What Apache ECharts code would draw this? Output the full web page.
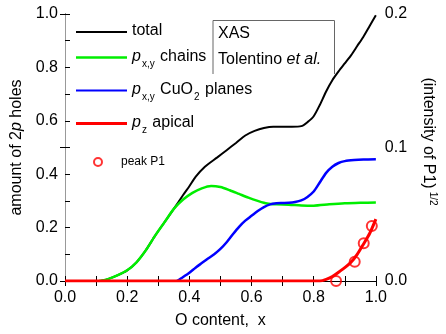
<!DOCTYPE html>
<html>
<head>
<meta charset="utf-8">
<script src="https://cdn.jsdelivr.net/npm/echarts@6/dist/echarts.min.js"></script>
<style>
  html, body { margin: 0; padding: 0; background: #fff; }
  #chart { width: 446px; height: 334px; }
</style>
</head>
<body>
<div id="chart"></div>
<script>
// values (x = O content, y = amount of 2p holes)
const totalX = [0, 0.11, 0.14, 0.17, 0.2, 0.23, 0.26, 0.29, 0.32, 0.35, 0.38, 0.4, 0.42, 0.45, 0.49, 0.52, 0.55, 0.58, 0.61, 0.64, 0.67, 0.7, 0.73, 0.76, 0.78, 0.8, 0.82, 0.84, 0.86, 0.88, 0.9, 0.92, 0.94, 0.96, 0.98, 1.0]
const totalY = [0, 0, 0.008, 0.022, 0.04, 0.07, 0.115, 0.17, 0.22, 0.27, 0.322, 0.355, 0.39, 0.428, 0.463, 0.49, 0.517, 0.545, 0.562, 0.573, 0.578, 0.578, 0.578, 0.58, 0.595, 0.617, 0.66, 0.71, 0.752, 0.785, 0.815, 0.845, 0.88, 0.915, 0.955, 0.995]

const chainsX = [0.11, 0.14, 0.17, 0.2, 0.23, 0.26, 0.29, 0.32, 0.35, 0.38, 0.41, 0.44, 0.47, 0.5, 0.53, 0.56, 0.59, 0.62, 0.65, 0.68, 0.72, 0.76, 0.8, 0.85, 0.9, 0.95, 1.0]
const chainsY = [0, 0.008, 0.022, 0.04, 0.07, 0.115, 0.17, 0.22, 0.27, 0.305, 0.33, 0.347, 0.356, 0.352, 0.34, 0.326, 0.312, 0.3, 0.29, 0.287, 0.286, 0.283, 0.282, 0.287, 0.291, 0.293, 0.294]

const planesX = [0.36, 0.38, 0.4, 0.42, 0.44, 0.46, 0.48, 0.5, 0.52, 0.54, 0.56, 0.58, 0.6, 0.62, 0.64, 0.66, 0.68, 0.7, 0.72, 0.74, 0.76, 0.78, 0.8, 0.82, 0.84, 0.86, 0.88, 0.9, 0.93, 0.96, 1.0]
const planesY = [0, 0.015, 0.031, 0.05, 0.067, 0.084, 0.1, 0.12, 0.145, 0.175, 0.203, 0.226, 0.244, 0.262, 0.277, 0.287, 0.291, 0.292, 0.293, 0.296, 0.302, 0.315, 0.335, 0.37, 0.405, 0.428, 0.442, 0.449, 0.453, 0.455, 0.456]

const apicalX = [0, 0.2, 0.4, 0.6, 0.7, 0.76, 0.8, 0.82, 0.84, 0.86, 0.88, 0.9, 0.92, 0.94, 0.96, 0.98, 1.0]
const apicalY = [0, 0, 0, 0, 0, 0, 0, 0, 0.006, 0.017, 0.033, 0.05, 0.07, 0.1, 0.138, 0.178, 0.232]

// peak P1, right axis
const peakX = [0.872, 0.932, 0.961, 0.987]
const peakY = [0.0, 0.0144, 0.0282, 0.0412]

const leftTicks = [0, 0.2, 0.4, 0.6, 0.8, 1.0]
const rightTicks = [0, 0.1, 0.2]

const zip = (xs, ys) => xs.map((x, i) => [x, ys[i]])

const font = 'Liberation Sans, Arial, sans-serif'
const rich = {
  i: { fontStyle: 'italic', fontSize: 16, lineHeight: 18, verticalAlign: 'top', fontFamily: font },
  n: { fontSize: 16, lineHeight: 18, verticalAlign: 'top', fontFamily: font },
  s: { fontSize: 10, lineHeight: 10, verticalAlign: 'top', padding: [11, 1, 0, 1], fontFamily: font },
}

const legendLabels = {
  total: '{n|total}',
  chains: '{i|p}{s|x,y}{n| chains}',
  planes: '{i|p}{s|x,y}{n| CuO}{s|2}{n| planes}',
  apical: '{i|p}{s|z}{n| apical}',
}

const labelEvery2 = (v) => (Math.round(v * 10) % 2 === 0 ? v.toFixed(1) : '')

const tickStyle = { show: true, inside: true, length: 5, lineStyle: { color: '#000', width: 1 } }

const lineLegend = (name, top, h) => ({
  data: [{ name: name, icon: 'rect' }],
  orient: 'vertical',
  left: 76,
  top: top,
  itemWidth: 51,
  itemHeight: h,
  padding: 0,
  formatter: (n) => legendLabels[n],
  textStyle: { color: '#000', rich: rich },
})

const lineSeries = (name, xs, ys, color, width, z) => ({
  name: name,
  type: 'line',
  data: zip(xs, ys),
  smooth: 0.25,
  symbol: 'none',
  lineStyle: { color: color, width: width },
  itemStyle: { color: color },
  z: z,
})

const chart = echarts.init(document.getElementById('chart'))
chart.setOption({
  backgroundColor: '#fff',
  animation: false,
  textStyle: { fontFamily: font },
  grid: { left: 65, right: 62, top: 14, bottom: 52 },
  legend: [
    lineLegend('total', 23, 2),
    lineLegend('chains', 48.5, 2.5),
    lineLegend('planes', 81.5, 2),
    lineLegend('apical', 114.5, 3),
    {
      data: ['peak P1'],
      left: 93,
      top: 156,
      itemWidth: 8,
      itemHeight: 8,
      padding: 0,
      textStyle: { color: '#000', fontSize: 12, fontFamily: font, padding: [0, 0, 0, 14] },
    },
  ],
  xAxis: [
    {
      type: 'value',
      min: 0,
      max: 1,
      interval: 0.1,
      name: 'O content,  x',
      nameLocation: 'middle',
      nameGap: 32,
      nameTextStyle: { fontSize: 16, color: '#000' },
      axisLine: { lineStyle: { color: '#000', width: 1 } },
      axisTick: tickStyle,
      axisLabel: { formatter: labelEvery2, color: '#000', fontSize: 16, margin: 9 },
      splitLine: { show: false },
    },
    {
      type: 'value',
      position: 'top',
      min: 0,
      max: 1,
      interval: 0.1,
      axisLine: { show: true, lineStyle: { color: '#000', width: 1 } },
      axisTick: tickStyle,
      axisLabel: { show: false },
      splitLine: { show: false },
    },
  ],
  yAxis: [
    {
      type: 'value',
      min: leftTicks[0],
      max: leftTicks[leftTicks.length - 1],
      interval: 0.1,
      name: '{n|amount of 2}{i|p}{n| holes}',
      nameLocation: 'middle',
      nameRotate: 90,
      nameGap: 29,
      nameTextStyle: { color: '#000', rich: rich },
      axisLine: { show: true, lineStyle: { color: '#000', width: 1 } },
      axisTick: tickStyle,
      axisLabel: { formatter: labelEvery2, color: '#000', fontSize: 16, margin: 7 },
      splitLine: { show: false },
    },
    {
      type: 'value',
      position: 'right',
      min: rightTicks[0],
      max: rightTicks[rightTicks.length - 1],
      interval: 0.1,
      name: '{n|(intensity of P1)}{sup|1/2}',
      nameLocation: 'middle',
      nameRotate: -90,
      nameGap: 36,
      nameTextStyle: {
        color: '#000',
        padding: [0, 12, 0, 0],
        rich: {
          n: { fontSize: 16, lineHeight: 18, verticalAlign: 'bottom', color: '#000', fontFamily: font },
          sup: { fontSize: 10, lineHeight: 10, verticalAlign: 'top', padding: [0, 0, 10, 3], color: '#000', fontFamily: font },
        },
      },
      axisLine: { show: true, lineStyle: { color: '#999', width: 1 } },
      axisTick: tickStyle,
      axisLabel: { formatter: (v) => v.toFixed(1), color: '#000', fontSize: 16, margin: 9 },
      splitLine: { show: false },
    },
  ],
  graphic: [
    {
      type: 'polyline',
      shape: { points: [[213, 74], [213, 20.5], [334.5, 20.5], [334.5, 74]] },
      style: { stroke: '#666', lineWidth: 1, fill: null },
      z: 10,
    },
    {
      type: 'text',
      left: 218,
      top: 26,
      style: { text: 'XAS', fontSize: 16, fontFamily: font, fill: '#000' },
      z: 10,
    },
    {
      type: 'text',
      left: 218,
      top: 52,
      style: {
        text: '{n|Tolentino }{i|et al.}',
        rich: { n: { fontSize: 16, fontFamily: font }, i: { fontSize: 16, fontStyle: 'italic', fontFamily: font } },
        fill: '#000',
      },
      z: 10,
    },
  ],
  series: [
    lineSeries('total', totalX, totalY, '#000', 2, 2),
    lineSeries('chains', chainsX, chainsY, '#00ee00', 2.5, 3),
    lineSeries('planes', planesX, planesY, '#0000ff', 2.5, 4),
    lineSeries('apical', apicalX, apicalY, '#ff0000', 3, 5),
    {
      name: 'peak P1',
      type: 'scatter',
      yAxisIndex: 1,
      data: zip(peakX, peakY),
      symbol: 'circle',
      symbolSize: 10,
      itemStyle: { color: 'rgba(255,255,255,0)', borderColor: '#ff0000', borderWidth: 2 },
      z: 6,
    },
  ],
})
</script>
</body>
</html>
